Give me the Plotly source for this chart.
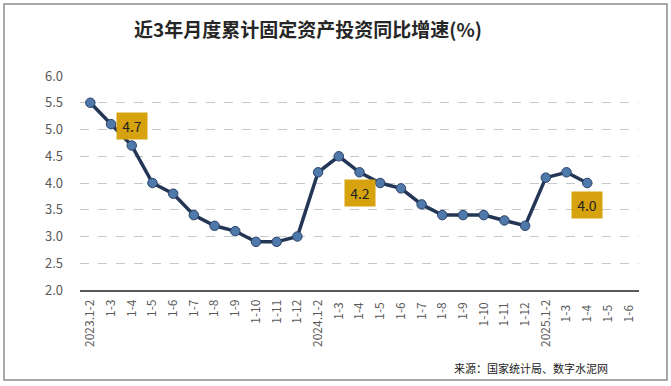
import plotly.graph_objects as go

categories = ["2023.1-2", "1-3", "1-4", "1-5", "1-6", "1-7", "1-8", "1-9", "1-10", "1-11", "1-12",
              "2024.1-2", "1-3 ", "1-4 ", "1-5 ", "1-6 ", "1-7 ", "1-8 ", "1-9 ", "1-10 ", "1-11 ", "1-12 ",
              "2025.1-2", "1-3  ", "1-4  ", "1-5  ", "1-6  "]
values = [5.5, 5.1, 4.7, 4.0, 3.8, 3.4, 3.2, 3.1, 2.9, 2.9, 3.0,
          4.2, 4.5, 4.2, 4.0, 3.9, 3.6, 3.4, 3.4, 3.4, 3.3, 3.2,
          4.1, 4.2, 4.0]
labelled = [(2, 20), (13, -21), (24, -22)]  # (index, yshift)

fig = go.Figure()
fig.add_trace(go.Scatter(
    x=categories[:len(values)], y=values, mode="lines+markers",
    line=dict(color="#243656", width=3.5),
    marker=dict(symbol="circle", size=9.5, color="#4f78ab",
                line=dict(color="#2a4468", width=1)),
    hoverinfo="skip", showlegend=False))

for idx, ys in labelled:
    fig.add_annotation(x=categories[idx], y=values[idx], text=f"{values[idx]:.1f}",
                       showarrow=False, yshift=ys, bgcolor="#d6a30f",
                       font=dict(size=14, color="#222222", family="Noto Sans CJK SC"),
                       borderpad=3, width=24)

fig.add_annotation(xref="paper", yref="paper", x=0.408, y=1.22, yanchor="middle",
                   text="<b>近3年月度累计固定资产投资同比增速(%)</b>", showarrow=False,
                   font=dict(size=19, color="#262626", family="Noto Sans CJK SC"))
fig.add_annotation(xref="paper", yref="paper", x=0.6655, y=-0.364, xanchor="left", yanchor="middle",
                   text="来源：国家统计局、数字水泥网", showarrow=False,
                   font=dict(size=11, color="#222222", family="Noto Sans CJK SC"))

fig.add_shape(type="rect", xref="paper", yref="paper",
              x0=-0.136, x1=1.050, y0=-0.4206, y1=1.336,
              line=dict(color="#8c8c8c", width=1.5), fillcolor="rgba(0,0,0,0)")

fig.update_xaxes(type="category", categoryorder="array", categoryarray=categories,
                 range=[-0.5, len(categories) - 0.5], tickangle=-90,
                 showgrid=False, showline=True, linecolor="#595959", linewidth=1.5,
                 ticks="", ticklabelstandoff=3,
                 tickfont=dict(size=12, color="#595959", family="Noto Sans CJK SC"))
fig.update_yaxes(range=[2.0, 6.0], dtick=0.5, tickformat=".1f",
                 showgrid=True, gridcolor="#c8c8c8", griddash="dash", gridwidth=1,
                 zeroline=False, showline=False, ticks="", ticklabelstandoff=16,
                 tickfont=dict(size=13, color="#595959", family="Noto Sans CJK SC"))

fig.update_layout(width=671, height=386, margin=dict(l=80, r=32, t=76, b=96),
                  paper_bgcolor="white", plot_bgcolor="white")
fig.write_html("out.html", config={"displayModeBar": False},
               post_script="document.body.style.margin='0';")
